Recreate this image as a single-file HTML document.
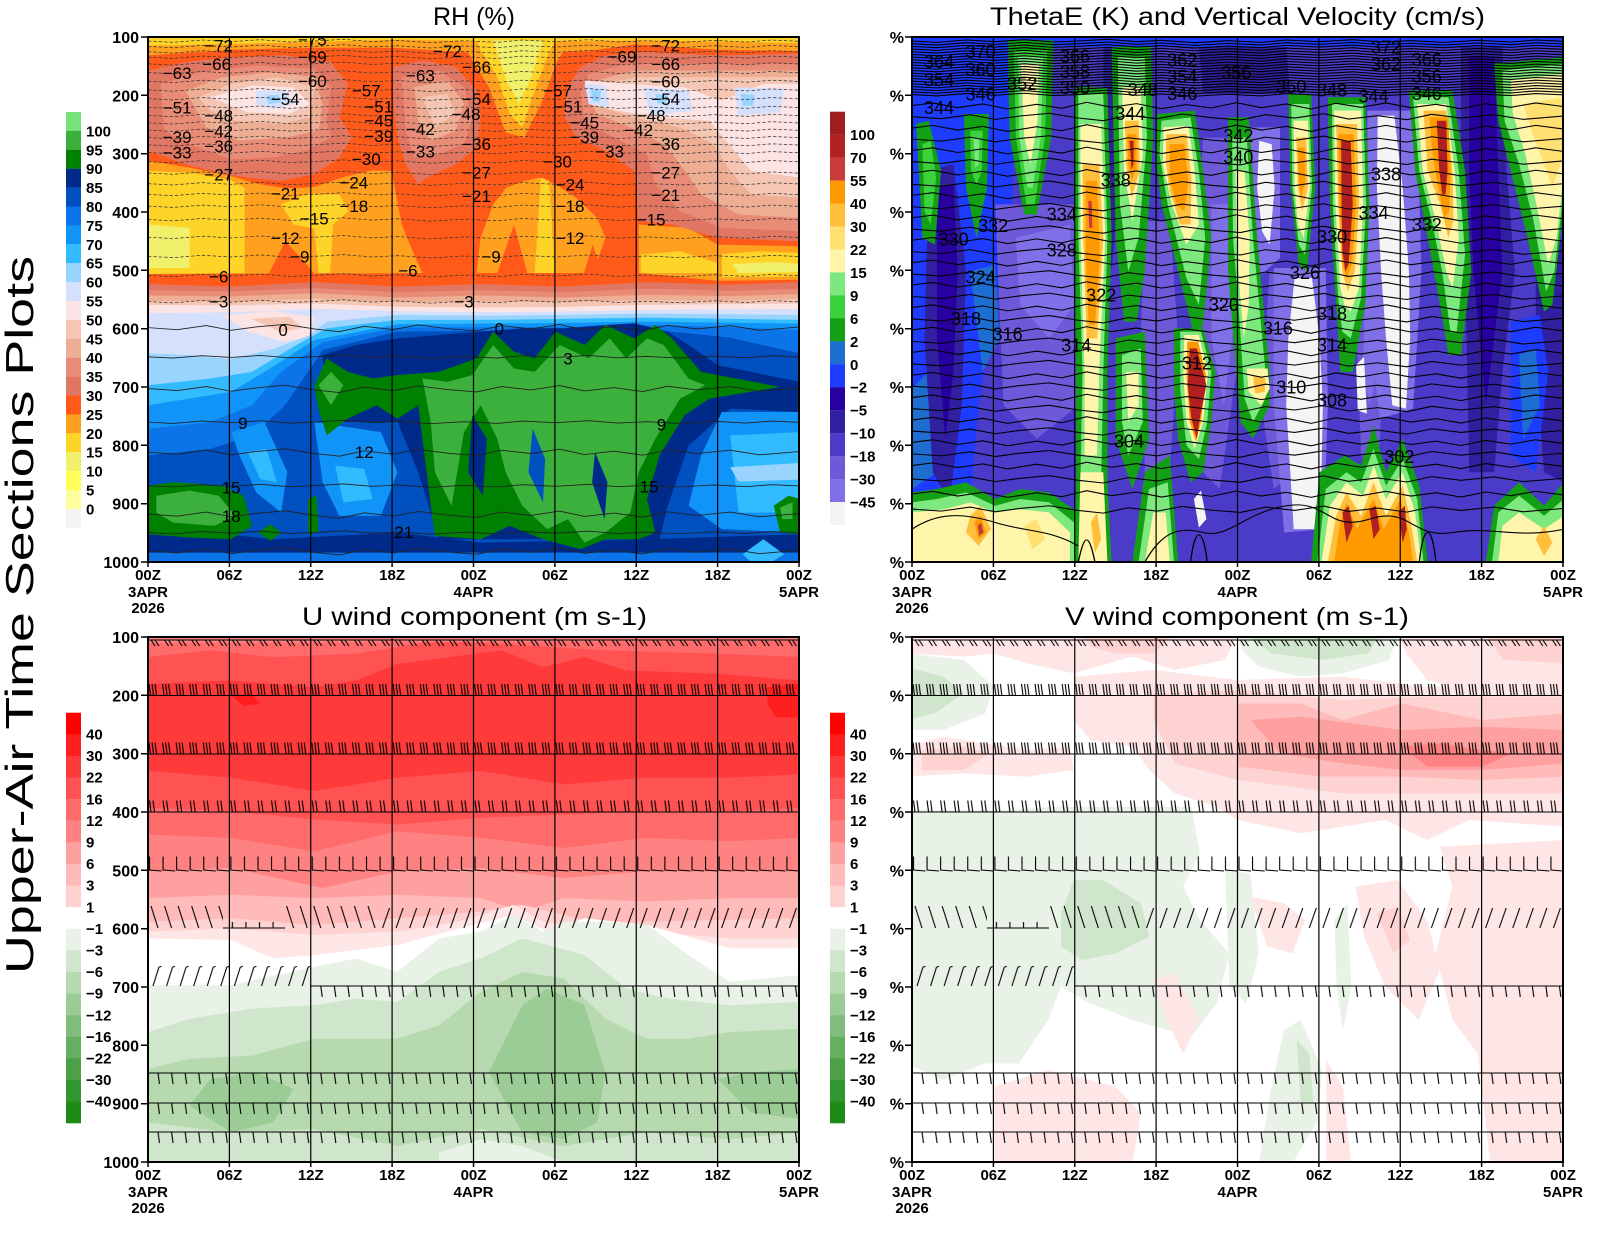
<!DOCTYPE html>
<html><head><meta charset="utf-8"><style>
html,body{margin:0;padding:0;background:#fff;}
svg{display:block;}
</style></head><body>
<svg xmlns="http://www.w3.org/2000/svg" xmlns:xlink="http://www.w3.org/1999/xlink" width="1600" height="1236" viewBox="0 0 1600 1236" font-family="'Liberation Sans', Arial, sans-serif">
<defs>
<clipPath id="cTL"><rect x="148" y="37" width="651" height="525"/></clipPath>
<clipPath id="cTR"><rect x="912" y="37" width="651" height="525"/></clipPath>
<clipPath id="cBL"><rect x="148" y="637" width="651" height="525"/></clipPath>
<clipPath id="cBR"><rect x="912" y="637" width="651" height="525"/></clipPath>
<path id="wA" d="M0 0L60 4L130 -3L200 2L270 -4L340 3L400 0L470 -5L540 2L600 -2L680 5L760 -1L840 4L900 -3L980 2L1060 -4L1130 3L1200 -1L1280 4L1360 -2L1440 3L1500 -3L1568 1"/>
<path id="wB" d="M0 0L50 -8L110 6L170 -5L230 10L300 -4L360 8L420 -10L480 5L540 -6L600 9L660 -3L720 7L780 -9L840 6L900 -5L960 10L1020 -7L1080 5L1140 -8L1200 6L1260 -4L1320 9L1380 -6L1440 5L1500 -8L1568 3"/>
<path id="wC" d="M0 0L70 6L140 -6L200 8L260 -2L330 -10L400 4L460 12L520 -4L590 6L650 -8L720 3L790 10L850 -6L920 4L990 -9L1050 7L1120 -3L1190 9L1250 -7L1320 4L1400 -6L1470 8L1568 -2"/>
<pattern id="pA" patternUnits="userSpaceOnUse" x="0" y="-25" width="13.5625" height="40"><path d="M0 25H13.6M3 25L7 31M7 25L11 31" stroke="#000" stroke-width="1.1" fill="none"/></pattern>
<pattern id="pS3" patternUnits="userSpaceOnUse" x="0" y="-25" width="13.5625" height="40"><path d="M0 25H13.6M2.5 25L1 13.5M5.5 25L4 13.5M8.5 25L7 13.5" stroke="#000" stroke-width="1.1" fill="none"/></pattern>
<pattern id="pS2" patternUnits="userSpaceOnUse" x="0" y="-25" width="13.5625" height="40"><path d="M0 25H13.6M3 25L1.5 13.5M6.5 25L5 13.5" stroke="#000" stroke-width="1.1" fill="none"/></pattern>
<pattern id="pL" patternUnits="userSpaceOnUse" x="0" y="-25" width="13.5625" height="40"><path d="M1.5 12V25.5L13.6 26.5" stroke="#000" stroke-width="1.1" fill="none"/></pattern>
<pattern id="pBk" patternUnits="userSpaceOnUse" x="0" y="-25" width="13.5625" height="40"><path d="M3 3L10 25" stroke="#000" stroke-width="1.1" fill="none"/></pattern>
<pattern id="pFl" patternUnits="userSpaceOnUse" x="0" y="-25" width="13.5625" height="40"><path d="M0 25H13.6M3 25V19" stroke="#000" stroke-width="1.1" fill="none"/></pattern>
<pattern id="pFw" patternUnits="userSpaceOnUse" x="0" y="-25" width="13.5625" height="40"><path d="M11 5L4 25" stroke="#000" stroke-width="1.1" fill="none"/></pattern>
<pattern id="pFw7" patternUnits="userSpaceOnUse" x="0" y="-25" width="13.5625" height="40"><path d="M11 6L5 25M11 6L13.5 5.5" stroke="#000" stroke-width="1.1" fill="none"/></pattern>
<pattern id="pFd" patternUnits="userSpaceOnUse" x="0" y="-25" width="13.5625" height="40"><path d="M0 25H13.6M10 25L11.5 36" stroke="#000" stroke-width="1.1" fill="none"/></pattern>
<g id="barbs">
<g transform="translate(0 640)"><rect y="-25" width="651" height="40" fill="url(#pA)"/></g>
<g transform="translate(0 695.5)"><rect y="-25" width="651" height="40" fill="url(#pS3)"/></g>
<g transform="translate(0 754)"><rect y="-25" width="651" height="40" fill="url(#pS3)"/></g>
<g transform="translate(0 812)"><rect y="-25" width="651" height="40" fill="url(#pS2)"/></g>
<g transform="translate(0 869.5)"><rect y="-25" width="651" height="40" fill="url(#pL)"/></g>
<g transform="translate(0 928)"><rect x="0" y="-25" width="75" height="40" fill="url(#pBk)"/><rect x="75" y="-25" width="62" height="40" fill="url(#pFl)"/><rect x="137" y="-25" width="96" height="40" fill="url(#pBk)"/><rect x="233" y="-25" width="418" height="40" fill="url(#pFw)"/></g>
<g transform="translate(0 986)"><rect x="0" y="-25" width="162" height="40" fill="url(#pFw7)"/><rect x="162" y="-25" width="489" height="40" fill="url(#pFd)"/></g>
<g transform="translate(0 1073)"><rect y="-25" width="651" height="40" fill="url(#pFd)"/></g>
<g transform="translate(0 1103)"><rect y="-25" width="651" height="40" fill="url(#pFd)"/></g>
<g transform="translate(0 1132)"><rect y="-25" width="651" height="40" fill="url(#pFd)"/></g>
</g>
</defs>
<rect width="1600" height="1236" fill="#fff"/>

<!-- ================= RH PANEL ================= -->
<g clip-path="url(#cTL)"><g transform="translate(148 37) scale(0.41582 0.33482)">
<rect width="1568" height="1568" fill="#ff5a1a"/>
<polygon fill="#ffa01e" points="0,0 1568,0 1568,42 1370,38 1170,22 1060,42 800,48 590,32 400,32 200,38 0,55"/>
<polygon fill="#ffd428" points="0,0 1568,0 1568,18 1200,10 900,14 600,8 300,18 0,26"/>
<polygon fill="#ffa01e" points="0,370 100,390 200,415 260,438 330,452 400,448 470,418 540,398 585,400 595,460 610,560 640,650 660,705 0,708"/>
<polygon fill="#ffd428" points="0,400 100,405 200,428 232,450 232,705 0,708"/>
<polygon fill="#ffd428" points="320,500 380,470 460,470 482,520 445,560 438,705 410,705 400,572 350,560"/>
<polygon fill="#f1f06a" points="0,560 100,570 100,690 0,690"/>
<polygon fill="#ff5a1a" points="290,708 330,610 375,670 400,708"/>
<polygon fill="#ffa01e" points="760,20 1010,20 985,70 945,200 905,300 860,285 820,150 780,70"/>
<polygon fill="#ffd428" points="790,10 980,10 960,60 930,160 900,270 870,230 840,120 800,40"/>
<polygon fill="#f1f06a" points="830,10 950,10 922,120 892,200 862,130"/>
<polygon fill="#ffa01e" points="790,705 800,600 830,500 862,450 900,432 940,420 980,440 1030,480 1080,540 1100,600 1070,705"/>
<polygon fill="#ff5a1a" points="840,705 880,560 912,705"/>
<polygon fill="#ff5a1a" points="1048,705 1070,620 1092,705"/>
<polygon fill="#ffd428" points="930,705 945,420 965,430 978,705"/>
<polygon fill="#ffa01e" points="1180,560 1300,570 1370,620 1568,625 1568,725 1370,728 1180,705"/>
<polygon fill="#ffd428" points="1185,650 1280,640 1370,675 1370,705 1185,705"/>
<polygon fill="#ffd428" points="1380,648 1470,640 1568,645 1568,715 1380,718"/>
<polygon fill="#f1f06a" points="1405,678 1500,672 1568,678 1568,702 1420,705"/>
<polygon fill="#e17662" points="0,100 90,75 200,60 330,55 440,75 480,140 460,240 490,300 460,360 400,410 320,430 240,420 170,405 90,380 0,340"/>
<polygon fill="#e88c78" points="30,140 130,105 260,85 400,95 440,150 430,250 440,300 380,340 300,360 200,365 120,330 40,280"/>
<polygon fill="#edae94" points="90,160 180,120 300,105 400,120 420,200 410,280 330,300 220,310 140,270"/>
<polygon fill="#f5c6b4" points="120,180 200,140 310,120 400,150 390,240 320,260 210,250 150,220"/>
<polygon fill="#fde4e4" points="150,180 250,145 350,150 390,200 340,230 240,225"/>
<polygon fill="#d5e0fc" points="260,160 330,160 350,200 300,215 260,200"/>
<polygon fill="#99d4ff" points="285,175 315,172 320,195 290,200"/>
<polygon fill="#e17662" points="590,90 660,70 740,90 790,160 800,240 790,330 740,380 670,420 650,440 620,380 600,300 590,200"/>
<polygon fill="#e88c78" points="610,120 700,100 760,150 780,240 760,320 700,350 640,360 620,280"/>
<polygon fill="#edae94" points="640,150 720,130 760,200 740,280 680,310 650,250"/>
<polygon fill="#f5c6b4" points="660,180 720,170 740,230 690,270"/>
<polygon fill="#e17662" points="1040,90 1100,55 1200,45 1370,55 1568,50 1568,610 1370,600 1260,560 1180,550 1170,400 1100,340 1030,300 1000,230 1010,150"/>
<polygon fill="#e88c78" points="1060,110 1150,80 1370,80 1568,80 1568,580 1380,570 1280,520 1220,440 1200,350 1120,300 1050,250 1040,170"/>
<polygon fill="#edae94" points="1080,130 1170,100 1370,100 1568,100 1568,540 1420,530 1330,470 1280,380 1240,320 1160,270 1080,230 1060,180"/>
<polygon fill="#f5c6b4" points="1090,140 1180,120 1370,120 1568,120 1568,480 1450,470 1400,400 1360,320 1280,270 1170,240 1090,210"/>
<polygon fill="#fde4e4" points="1050,130 1150,140 1290,150 1380,190 1480,140 1568,140 1568,420 1450,400 1390,310 1350,250 1230,240 1130,220 1060,200"/>
<polygon fill="#d5e0fc" points="1050,140 1100,145 1110,210 1060,200"/>
<polygon fill="#d5e0fc" points="1190,150 1300,160 1310,220 1210,235"/>
<polygon fill="#d5e0fc" points="1410,150 1530,155 1520,225 1420,235"/>
<polygon fill="#99d4ff" points="1065,155 1090,160 1085,195 1068,190"/>
<polygon fill="#99d4ff" points="1220,170 1250,175 1245,200 1225,198"/>
<polygon fill="#99d4ff" points="1425,170 1460,172 1455,205 1430,205"/>
<polygon fill="#e17662" points="0,738 200,745 400,732 600,745 800,738 1000,745 1200,732 1400,740 1568,732 1568,1568 0,1568"/>
<polygon fill="#e88c78" points="0,756 200,760 400,750 600,762 800,756 1000,762 1200,752 1400,758 1568,752 1568,1568 0,1568"/>
<polygon fill="#edae94" points="0,772 200,775 400,765 600,778 800,772 1000,778 1200,770 1400,774 1568,768 1568,1568 0,1568"/>
<polygon fill="#f5c6b4" points="0,788 200,790 400,782 600,792 800,790 1000,792 1200,786 1400,788 1568,782 1568,1568 0,1568"/>
<polygon fill="#fde4e4" points="0,800 200,802 400,796 600,806 800,808 1000,806 1200,800 1568,796 1568,1568 0,1568"/>
<polygon fill="#d5e0fc" points="0,825 200,822 420,812 600,818 800,822 1000,820 1200,815 1568,812 1568,1568 0,1568"/>
<polygon fill="#fde4e4" points="180,832 300,818 400,838 385,900 320,908 240,880"/>
<polygon fill="#f5c6b4" points="250,842 340,835 372,868 320,882"/>
<polygon fill="#99d4ff" points="0,945 100,950 200,962 300,932 390,890 430,850 600,830 800,832 1000,830 1200,826 1568,830 1568,1568 0,1568"/>
<polygon fill="#33bbff" points="0,1040 150,1020 250,1000 350,925 430,870 600,845 800,845 1000,842 1200,838 1400,842 1568,845 1568,1568 0,1568"/>
<polygon fill="#1194f8" points="0,1100 200,1060 300,985 400,905 600,858 800,856 1000,854 1200,850 1568,856 1568,1568 0,1568"/>
<polygon fill="#0a74e8" points="0,1170 150,1150 250,1100 320,1000 420,912 600,868 1000,866 1200,860 1400,866 1568,876 1568,1568 0,1568"/>
<polygon fill="#0050c0" points="0,1250 150,1230 250,1190 330,1100 420,935 600,880 1000,876 1200,872 1400,898 1568,945 1568,1568 0,1568"/>
<polygon fill="#1194f8" points="200,1180 280,1150 335,1300 320,1420 260,1360 220,1250"/>
<polygon fill="#33bbff" points="240,1240 285,1230 310,1330 270,1320"/>
<polygon fill="#1194f8" points="400,1150 560,1180 600,1300 560,1430 460,1430 420,1330"/>
<polygon fill="#33bbff" points="450,1280 520,1290 540,1380 470,1390"/>
<polygon fill="#002a8a" points="420,950 500,920 600,900 700,890 800,880 900,870 1000,870 1100,860 1170,855 1250,880 1300,920 1370,980 1568,1030 1568,1120 1400,1110 1300,1220 1250,1400 1230,1500 700,1500 650,1300 600,1150 500,1150 430,1150"/>
<polygon fill="#002a8a" points="0,1460 300,1500 600,1480 800,1510 1200,1500 1568,1485 1568,1545 0,1545"/>
<polygon fill="#0a74e8" points="0,1540 1568,1540 1568,1568 0,1568"/>
<polygon fill="#33bbff" points="1430,1545 1480,1500 1530,1545 1500,1568 1450,1568"/>
<polygon fill="#1194f8" points="1380,1120 1568,1120 1568,1480 1380,1470 1300,1400 1330,1250"/>
<polygon fill="#33bbff" points="1400,1190 1568,1180 1568,1420 1420,1420"/>
<polygon fill="#99d4ff" points="1400,1285 1568,1272 1568,1322 1420,1328"/>
<polygon fill="#008000" points="400,1040 430,960 480,1000 540,1020 600,1010 700,1000 790,960 830,880 880,940 930,960 980,880 1050,920 1100,860 1170,900 1220,860 1260,900 1330,1000 1520,1045 1350,1080 1290,1130 1230,1250 1200,1380 1220,1480 1180,1500 1100,1500 1040,1530 950,1500 870,1460 800,1500 690,1490 680,1400 660,1200 650,1100 600,1140 550,1100 480,1140 430,1190 410,1110"/>
<polygon fill="#3cb03c" points="410,1040 440,1000 470,1040 440,1100"/>
<polygon fill="#3cb03c" points="660,1020 720,1030 780,1010 830,920 880,990 930,1000 990,920 1060,960 1110,900 1150,960 1200,900 1240,920 1300,1020 1340,1040 1280,1080 1220,1200 1180,1300 1160,1420 1100,1480 1050,1510 1010,1440 960,1470 900,1400 860,1300 840,1200 800,1100 760,1180 730,1400 690,1300 680,1150"/>
<polygon fill="#002a8a" points="780,1130 815,1200 805,1370 770,1300"/>
<polygon fill="#0050c0" points="925,1170 955,1260 950,1390 915,1300"/>
<polygon fill="#002a8a" points="1075,1240 1105,1330 1098,1440 1068,1330"/>
<polygon fill="#008000" points="0,1340 60,1330 180,1340 230,1370 250,1460 200,1500 100,1495 0,1485"/>
<polygon fill="#3cb03c" points="20,1370 100,1355 170,1370 210,1430 160,1460 60,1450 20,1420"/>
<polygon fill="#008000" points="265,1480 295,1455 320,1480 295,1505"/>
<polygon fill="#008000" points="385,1380 405,1370 410,1480 385,1485"/>
<polygon fill="#008000" points="1505,1400 1540,1370 1568,1380 1568,1485 1520,1480"/>
<polygon fill="#3cb03c" points="1520,1405 1550,1390 1550,1440 1525,1440"/>
<g fill="none" stroke="#333" stroke-width="2.2" stroke-dasharray="8 5">
<use xlink:href="#wA" y="12"/><use xlink:href="#wA" y="28"/><use xlink:href="#wA" y="44"/><use xlink:href="#wA" y="60"/><use xlink:href="#wA" y="80"/><use xlink:href="#wA" y="106"/><use xlink:href="#wA" y="132"/><use xlink:href="#wA" y="158"/><use xlink:href="#wA" y="184"/><use xlink:href="#wA" y="210"/><use xlink:href="#wA" y="234"/><use xlink:href="#wA" y="256"/><use xlink:href="#wA" y="278"/><use xlink:href="#wA" y="300"/><use xlink:href="#wA" y="322"/><use xlink:href="#wA" y="345"/><use xlink:href="#wA" y="372"/><use xlink:href="#wA" y="406"/><use xlink:href="#wA" y="438"/><use xlink:href="#wA" y="470"/><use xlink:href="#wA" y="505"/><use xlink:href="#wA" y="545"/><use xlink:href="#wA" y="598"/><use xlink:href="#wA" y="655"/><use xlink:href="#wA" y="712"/><use xlink:href="#wA" y="790"/>
</g>
<g fill="none" stroke="#222" stroke-width="2.6">
<use xlink:href="#wC" y="868"/><use xlink:href="#wA" y="955"/><use xlink:href="#wC" y="1050"/><use xlink:href="#wA" y="1150"/><use xlink:href="#wC" y="1240"/><use xlink:href="#wA" y="1340"/><use xlink:href="#wC" y="1425"/><use xlink:href="#wA" y="1480"/><use xlink:href="#wC" y="1535"/>
</g>
<g font-size="17" text-anchor="middle" fill="#000">
<text transform="translate(170 25) scale(2.405 2.987)" y="6">−72</text>
<text transform="translate(395 8) scale(2.405 2.987)" y="6">−75</text>
<text transform="translate(395 60) scale(2.405 2.987)" y="6">−69</text>
<text transform="translate(165 80) scale(2.405 2.987)" y="6">−66</text>
<text transform="translate(70 108) scale(2.405 2.987)" y="6">−63</text>
<text transform="translate(395 132) scale(2.405 2.987)" y="6">−60</text>
<text transform="translate(330 185) scale(2.405 2.987)" y="6">−54</text>
<text transform="translate(525 160) scale(2.405 2.987)" y="6">−57</text>
<text transform="translate(70 210) scale(2.405 2.987)" y="6">−51</text>
<text transform="translate(170 235) scale(2.405 2.987)" y="6">−48</text>
<text transform="translate(555 207) scale(2.405 2.987)" y="6">−51</text>
<text transform="translate(555 250) scale(2.405 2.987)" y="6">−45</text>
<text transform="translate(170 280) scale(2.405 2.987)" y="6">−42</text>
<text transform="translate(555 295) scale(2.405 2.987)" y="6">−39</text>
<text transform="translate(70 298) scale(2.405 2.987)" y="6">−39</text>
<text transform="translate(170 325) scale(2.405 2.987)" y="6">−36</text>
<text transform="translate(70 345) scale(2.405 2.987)" y="6">−33</text>
<text transform="translate(525 365) scale(2.405 2.987)" y="6">−30</text>
<text transform="translate(170 410) scale(2.405 2.987)" y="6">−27</text>
<text transform="translate(495 435) scale(2.405 2.987)" y="6">−24</text>
<text transform="translate(330 468) scale(2.405 2.987)" y="6">−21</text>
<text transform="translate(495 505) scale(2.405 2.987)" y="6">−18</text>
<text transform="translate(400 542) scale(2.405 2.987)" y="6">−15</text>
<text transform="translate(330 600) scale(2.405 2.987)" y="6">−12</text>
<text transform="translate(365 655) scale(2.405 2.987)" y="6">−9</text>
<text transform="translate(170 715) scale(2.405 2.987)" y="6">−6</text>
<text transform="translate(625 698) scale(2.405 2.987)" y="6">−6</text>
<text transform="translate(170 790) scale(2.405 2.987)" y="6">−3</text>
<text transform="translate(325 875) scale(2.405 2.987)" y="6">0</text>
<text transform="translate(720 42) scale(2.405 2.987)" y="6">−72</text>
<text transform="translate(790 90) scale(2.405 2.987)" y="6">−66</text>
<text transform="translate(655 115) scale(2.405 2.987)" y="6">−63</text>
<text transform="translate(790 185) scale(2.405 2.987)" y="6">−54</text>
<text transform="translate(765 230) scale(2.405 2.987)" y="6">−48</text>
<text transform="translate(655 275) scale(2.405 2.987)" y="6">−42</text>
<text transform="translate(790 320) scale(2.405 2.987)" y="6">−36</text>
<text transform="translate(655 342) scale(2.405 2.987)" y="6">−33</text>
<text transform="translate(790 405) scale(2.405 2.987)" y="6">−27</text>
<text transform="translate(790 475) scale(2.405 2.987)" y="6">−21</text>
<text transform="translate(825 655) scale(2.405 2.987)" y="6">−9</text>
<text transform="translate(760 790) scale(2.405 2.987)" y="6">−3</text>
<text transform="translate(845 870) scale(2.405 2.987)" y="6">0</text>
<text transform="translate(1140 58) scale(2.405 2.987)" y="6">−69</text>
<text transform="translate(1245 25) scale(2.405 2.987)" y="6">−72</text>
<text transform="translate(1245 80) scale(2.405 2.987)" y="6">−66</text>
<text transform="translate(1245 133) scale(2.405 2.987)" y="6">−60</text>
<text transform="translate(985 160) scale(2.405 2.987)" y="6">−57</text>
<text transform="translate(1245 185) scale(2.405 2.987)" y="6">−54</text>
<text transform="translate(1010 208) scale(2.405 2.987)" y="6">−51</text>
<text transform="translate(1210 235) scale(2.405 2.987)" y="6">−48</text>
<text transform="translate(1050 255) scale(2.405 2.987)" y="6">−45</text>
<text transform="translate(1180 278) scale(2.405 2.987)" y="6">−42</text>
<text transform="translate(1050 298) scale(2.405 2.987)" y="6">−39</text>
<text transform="translate(1245 320) scale(2.405 2.987)" y="6">−36</text>
<text transform="translate(1110 342) scale(2.405 2.987)" y="6">−33</text>
<text transform="translate(985 372) scale(2.405 2.987)" y="6">−30</text>
<text transform="translate(1245 405) scale(2.405 2.987)" y="6">−27</text>
<text transform="translate(1015 440) scale(2.405 2.987)" y="6">−24</text>
<text transform="translate(1245 472) scale(2.405 2.987)" y="6">−21</text>
<text transform="translate(1015 505) scale(2.405 2.987)" y="6">−18</text>
<text transform="translate(1210 545) scale(2.405 2.987)" y="6">−15</text>
<text transform="translate(1015 600) scale(2.405 2.987)" y="6">−12</text>
<text transform="translate(1010 960) scale(2.405 2.987)" y="6">3</text>
<text transform="translate(1235 1158) scale(2.405 2.987)" y="6">9</text>
<text transform="translate(1205 1342) scale(2.405 2.987)" y="6">15</text>
<text transform="translate(228 1153) scale(2.405 2.987)" y="6">9</text>
<text transform="translate(520 1240) scale(2.405 2.987)" y="6">12</text>
<text transform="translate(200 1345) scale(2.405 2.987)" y="6">15</text>
<text transform="translate(200 1430) scale(2.405 2.987)" y="6">18</text>
<text transform="translate(615 1478) scale(2.405 2.987)" y="6">21</text>
</g>
</g></g>

<!-- ================= THETAE PANEL ================= -->
<g clip-path="url(#cTR)"><g transform="translate(912 37) scale(0.41582 0.33482)">
<rect width="1568" height="1568" fill="#4a3cc8"/>
<polygon fill="#1e3cff" points="0,0 250,0 250,170 240,500 200,800 160,1100 140,1400 0,1400"/>
<polygon fill="#1e3cff" points="250,0 1568,0 1568,30 250,30"/>
<polygon fill="#1e6ed2" points="140,700 200,680 210,900 170,1000"/>
<polygon fill="#1e6ed2" points="0,1050 40,1000 60,1300 0,1350"/>
<polygon fill="#3020a0" points="40,400 100,380 130,700 120,1100 90,1390 50,1300 30,900"/>
<polygon fill="#2800a0" points="60,450 100,440 110,700 100,1000 80,1200 60,900"/>
<polygon fill="#3020a0" points="1320,30 1420,30 1430,400 1450,700 1420,1000 1400,1300 1340,1300 1330,700 1320,400"/>
<polygon fill="#2800a0" points="1340,60 1400,60 1410,400 1420,700 1380,1100 1350,700 1340,400"/>
<polygon fill="#3020a0" points="1500,650 1568,600 1568,1330 1520,1300 1500,1000"/>
<polygon fill="#1e3cff" points="1440,850 1510,830 1530,1000 1500,1300 1440,1250"/>
<polygon fill="#1e6ed2" points="1460,950 1500,930 1510,1100 1470,1200"/>
<polygon fill="#3020a0" points="690,30 900,30 910,170 700,170"/>
<polygon fill="#3020a0" points="460,30 500,30 500,400 480,700 460,500"/>
<polygon fill="#6e5ad8" points="200,500 400,500 400,1100 300,1200 220,1100"/>
<polygon fill="#6e5ad8" points="560,550 620,550 640,900 620,1300 560,1300 550,900"/>
<polygon fill="#6e5ad8" points="700,300 780,300 800,700 780,1000 740,1350 700,1300 680,700"/>
<polygon fill="#6e5ad8" points="1080,600 1120,600 1140,900 1120,1300 1080,1250 1070,900"/>
<polygon fill="#6e5ad8" points="860,700 910,700 920,1300 870,1350 840,1100"/>
<polygon fill="#8070e8" points="250,600 380,560 390,800 330,900 260,800"/>
<polygon fill="#8070e8" points="720,500 770,500 780,800 750,1100 720,900"/>
<polygon fill="#8070e8" points="1090,700 1110,700 1120,1000 1100,1100 1085,1000"/>
<polygon fill="#8070e8" points="805,270 885,270 885,660 840,710 805,610"/>
<polygon fill="#f4f4f4" points="835,310 865,320 872,450 860,620 842,580 830,450"/>
<polygon fill="#8070e8" points="870,690 995,690 1000,1100 990,1470 895,1480 870,1100"/>
<polygon fill="#f4f4f4" points="920,720 962,720 980,900 988,1100 982,1470 918,1470 900,1100 905,900"/>
<polygon fill="#8070e8" points="1095,220 1215,220 1225,700 1205,1110 1125,1140 1095,800"/>
<polygon fill="#f4f4f4" points="1120,235 1160,235 1180,450 1195,700 1198,900 1188,1110 1155,1100 1140,900 1128,700 1118,450"/>
<polygon fill="#f4f4f4" points="1068,980 1087,955 1094,1125 1072,1115"/>
<polygon fill="#f4f4f4" points="678,1380 695,1355 708,1440 690,1465"/>
<polygon fill="#14a014" points="230,10 340,10 335,300 300,530 270,530 235,300"/>
<polygon fill="#3cd23c" points="245,40 325,40 320,300 295,500 275,500 250,300"/>
<polygon fill="#7de87d" points="255,60 315,60 310,300 290,450 278,450 258,300"/>
<polygon fill="#fff5aa" points="262,80 305,80 302,250 285,380 270,300"/>
<polygon fill="#14a014" points="10,260 40,250 70,400 55,620 25,600"/>
<polygon fill="#3cd23c" points="25,320 45,310 58,420 45,560 30,520"/>
<polygon fill="#14a014" points="125,230 185,230 180,450 155,600 130,450"/>
<polygon fill="#3cd23c" points="140,280 170,280 168,400 155,440 142,400"/>
<polygon fill="#7de87d" points="148,300 162,300 160,380 152,390"/>
<polygon fill="#14a014" points="390,150 470,150 480,600 470,1000 470,1330 480,1568 390,1568 395,1330 395,1000 390,600"/>
<polygon fill="#7de87d" points="400,170 460,170 470,600 460,1000 455,1330 465,1568 405,1568 405,1330 410,1000 400,600"/>
<polygon fill="#fff5aa" points="405,260 455,260 465,600 450,1000 445,1250 415,1250 415,1000 405,600"/>
<polygon fill="#ffbe3c" points="410,380 450,380 460,600 445,900 420,900 412,600"/>
<polygon fill="#ff9900" points="418,430 445,430 452,650 440,860 425,860 418,650"/>
<polygon fill="#c83c3c" points="424,490 432,490 434,570 426,570"/>
<polygon fill="#fff5aa" points="405,1300 460,1300 470,1568 400,1568"/>
<polygon fill="#ffbe3c" points="430,1450 445,1420 455,1500 440,1540"/>
<polygon fill="#14a014" points="480,30 575,30 580,300 560,700 540,850 510,850 490,600"/>
<polygon fill="#7de87d" points="495,60 560,60 565,300 545,600 520,700 500,500"/>
<polygon fill="#fff5aa" points="505,150 550,150 555,350 530,550 510,400"/>
<polygon fill="#ffbe3c" points="512,250 545,250 548,400 528,480 515,380"/>
<polygon fill="#ff9900" points="518,290 540,290 540,390 528,430 520,380"/>
<polygon fill="#b22222" points="523,310 533,310 533,380 528,395"/>
<polygon fill="#14a014" points="490,900 560,880 570,1200 530,1350 490,1200"/>
<polygon fill="#7de87d" points="505,950 550,930 555,1150 520,1250 505,1150"/>
<polygon fill="#fff5aa" points="515,1000 545,1000 545,1100 520,1150"/>
<polygon fill="#14a014" points="590,230 680,220 700,400 720,600 700,860 680,900 640,700 600,500 585,350"/>
<polygon fill="#7de87d" points="600,250 670,240 690,400 705,600 690,800 660,720 615,500 595,350"/>
<polygon fill="#fff5aa" points="605,270 665,265 680,400 690,560 660,620 625,500 603,380"/>
<polygon fill="#ffbe3c" points="612,290 660,290 672,420 670,560 645,560 620,460 610,370"/>
<polygon fill="#ff9900" points="620,320 655,320 665,430 655,520 635,500 620,420"/>
<polygon fill="#14a014" points="630,870 700,870 730,1000 720,1150 700,1300 670,1330 640,1200 630,1050"/>
<polygon fill="#7de87d" points="645,880 695,880 720,1000 710,1150 690,1260 660,1220 645,1050"/>
<polygon fill="#fff5aa" points="655,890 690,890 712,1000 700,1150 680,1230 660,1150 652,1000"/>
<polygon fill="#ff9900" points="662,910 688,910 707,1010 695,1150 683,1210 668,1150 660,1010"/>
<polygon fill="#b02020" points="668,930 685,930 708,1040 692,1140 685,1200 672,1140 663,1040"/>
<polygon fill="#14a014" points="760,240 810,240 830,600 860,1000 860,1100 820,1200 790,1150 780,1000 760,700"/>
<polygon fill="#7de87d" points="770,300 805,300 820,600 850,1000 850,1080 820,1150 800,1080 785,800 772,600"/>
<polygon fill="#fff5aa" points="778,400 800,400 812,600 810,800 798,900 788,750 780,600"/>
<polygon fill="#fff5aa" points="805,990 855,990 860,1050 840,1100 810,1060"/>
<polygon fill="#ffbe3c" points="820,1010 850,1020 848,1060 825,1065"/>
<polygon fill="#14a014" points="905,170 960,170 970,450 950,700 930,680 910,450"/>
<polygon fill="#7de87d" points="912,200 955,200 962,450 945,650 930,620 915,450"/>
<polygon fill="#fff5aa" points="918,250 952,250 957,450 942,600 928,560 920,450"/>
<polygon fill="#ffbe3c" points="924,300 948,300 952,450 938,520 928,450"/>
<polygon fill="#ff9900" points="928,330 945,330 946,430 936,480 930,430"/>
<polygon fill="#14a014" points="1000,180 1090,180 1100,500 1090,800 1060,1000 1030,1000 1020,800 1005,500"/>
<polygon fill="#7de87d" points="1010,200 1085,200 1092,500 1080,780 1055,900 1035,880 1025,780 1012,500"/>
<polygon fill="#fff5aa" points="1015,220 1080,220 1085,500 1075,750 1055,820 1040,800 1030,750 1018,500"/>
<polygon fill="#ffbe3c" points="1020,260 1070,260 1075,500 1065,700 1048,760 1035,700 1025,500"/>
<polygon fill="#ff9900" points="1025,290 1062,290 1068,500 1058,680 1045,720 1035,680 1028,500"/>
<polygon fill="#b02020" points="1032,310 1055,310 1060,500 1050,680 1042,700 1035,640 1033,500"/>
<polygon fill="#14a014" points="1195,160 1300,160 1330,400 1345,700 1320,950 1290,950 1270,800 1240,600 1210,400"/>
<polygon fill="#7de87d" points="1205,180 1290,180 1315,400 1330,650 1310,880 1295,880 1275,700 1250,550 1220,400"/>
<polygon fill="#fff5aa" points="1215,200 1285,200 1305,400 1315,600 1300,750 1285,700 1260,550 1228,400"/>
<polygon fill="#ffbe3c" points="1230,220 1285,220 1300,400 1302,550 1290,600 1270,500 1240,400"/>
<polygon fill="#ff9900" points="1245,240 1290,240 1295,400 1292,520 1280,540 1265,450 1250,330"/>
<polygon fill="#b02020" points="1262,250 1285,250 1288,400 1283,470 1275,470 1268,400"/>
<polygon fill="#14a014" points="1400,80 1568,60 1568,500 1540,800 1520,820 1480,600 1440,400 1410,250"/>
<polygon fill="#7de87d" points="1420,100 1568,80 1568,450 1545,700 1525,760 1495,550 1460,380 1425,250"/>
<polygon fill="#fff5aa" points="1440,130 1568,110 1568,400 1550,600 1530,680 1505,520 1475,350 1445,230"/>
<polygon fill="#ffe070" points="1470,200 1568,180 1568,350 1540,450 1520,380 1490,280"/>
<polygon fill="#14a014" points="960,1568 980,1300 1040,1250 1080,1280 1110,1160 1140,1300 1180,1200 1220,1340 1240,1568"/>
<polygon fill="#7de87d" points="975,1568 995,1350 1045,1300 1080,1330 1110,1230 1140,1340 1180,1260 1215,1380 1230,1568"/>
<polygon fill="#fff5aa" points="985,1568 1005,1400 1045,1330 1085,1370 1110,1280 1140,1380 1180,1300 1210,1420 1225,1568"/>
<polygon fill="#ffbe3c" points="1000,1568 1020,1430 1045,1360 1080,1430 1110,1330 1140,1430 1180,1340 1200,1450 1215,1568"/>
<polygon fill="#ff9900" points="1015,1568 1030,1450 1045,1390 1070,1470 1110,1380 1135,1470 1175,1380 1195,1480 1205,1568"/>
<polygon fill="#b02020" points="1035,1420 1050,1400 1060,1460 1045,1510"/>
<polygon fill="#b02020" points="1100,1410 1115,1400 1125,1470 1110,1500"/>
<polygon fill="#b02020" points="1170,1420 1185,1400 1190,1470 1180,1510"/>
<polygon fill="#14a014" points="0,1568 0,1360 60,1350 130,1330 200,1380 260,1350 330,1360 400,1420 400,1568"/>
<polygon fill="#7de87d" points="0,1568 0,1390 60,1380 130,1360 200,1400 260,1380 330,1390 390,1450 390,1568"/>
<polygon fill="#fff5aa" points="0,1568 0,1420 80,1410 140,1390 200,1420 260,1410 330,1420 380,1480 380,1568"/>
<polygon fill="#ffbe3c" points="140,1430 165,1400 190,1470 160,1520 130,1480"/>
<polygon fill="#ff9900" points="150,1450 165,1430 178,1480 160,1500"/>
<polygon fill="#c83c3c" points="158,1460 166,1450 172,1480 162,1490"/>
<polygon fill="#ffe070" points="270,1460 300,1440 320,1500 290,1530"/>
<polygon fill="#14a014" points="530,1568 560,1300 620,1250 640,1568"/>
<polygon fill="#7de87d" points="545,1568 570,1350 615,1330 630,1568"/>
<polygon fill="#fff5aa" points="560,1568 580,1420 610,1420 620,1568"/>
<polygon fill="#14a014" points="1380,1568 1400,1400 1460,1330 1520,1400 1568,1330 1568,1568"/>
<polygon fill="#7de87d" points="1395,1568 1410,1420 1460,1370 1520,1430 1568,1380 1568,1568"/>
<polygon fill="#fff5aa" points="1410,1568 1420,1460 1460,1420 1520,1470 1568,1430 1568,1568"/>
<polygon fill="#ffbe3c" points="1500,1500 1520,1460 1540,1510 1520,1550"/>
<g fill="none" stroke="#000" stroke-width="3.2">
<use xlink:href="#wA" y="12"/><use xlink:href="#wA" y="20"/><use xlink:href="#wA" y="28"/><use xlink:href="#wA" y="36"/><use xlink:href="#wA" y="44"/><use xlink:href="#wA" y="52"/><use xlink:href="#wA" y="60"/><use xlink:href="#wA" y="68"/><use xlink:href="#wA" y="76"/><use xlink:href="#wA" y="84"/><use xlink:href="#wA" y="92"/><use xlink:href="#wA" y="100"/><use xlink:href="#wA" y="108"/><use xlink:href="#wA" y="116"/><use xlink:href="#wA" y="124"/><use xlink:href="#wA" y="132"/><use xlink:href="#wA" y="140"/><use xlink:href="#wA" y="148"/><use xlink:href="#wA" y="156"/><use xlink:href="#wA" y="164"/><use xlink:href="#wA" y="172"/>
<use xlink:href="#wB" y="205"/><use xlink:href="#wC" y="238"/><use xlink:href="#wB" y="272"/><use xlink:href="#wC" y="305"/><use xlink:href="#wB" y="339"/><use xlink:href="#wC" y="372"/><use xlink:href="#wB" y="406"/><use xlink:href="#wC" y="440"/><use xlink:href="#wB" y="473"/><use xlink:href="#wC" y="507"/><use xlink:href="#wB" y="540"/><use xlink:href="#wC" y="574"/><use xlink:href="#wB" y="607"/><use xlink:href="#wC" y="641"/><use xlink:href="#wB" y="674"/><use xlink:href="#wC" y="708"/><use xlink:href="#wB" y="741"/><use xlink:href="#wC" y="775"/><use xlink:href="#wB" y="808"/><use xlink:href="#wC" y="842"/><use xlink:href="#wB" y="875"/><use xlink:href="#wC" y="909"/><use xlink:href="#wB" y="942"/><use xlink:href="#wC" y="976"/><use xlink:href="#wB" y="1010"/><use xlink:href="#wC" y="1043"/><use xlink:href="#wB" y="1077"/><use xlink:href="#wC" y="1110"/><use xlink:href="#wB" y="1144"/><use xlink:href="#wC" y="1177"/><use xlink:href="#wB" y="1211"/><use xlink:href="#wC" y="1245"/><use xlink:href="#wB" y="1280"/><use xlink:href="#wC" y="1320"/><use xlink:href="#wB" y="1365"/><use xlink:href="#wC" y="1410"/>
<path d="M0 1470C60 1420 120 1420 200 1450S330 1470 400 1520M560 1568C600 1480 640 1460 700 1480S800 1420 900 1400S1000 1480 1100 1440S1200 1500 1300 1480S1450 1500 1568 1470M400 1568C415 1480 425 1480 440 1568M670 1568C680 1460 700 1460 710 1568M1220 1568C1230 1450 1250 1450 1260 1568"/>
</g>
<g font-size="18" text-anchor="middle" fill="#000">
<text transform="translate(65 75) scale(2.405 2.987)" y="6">364</text>
<text transform="translate(165 45) scale(2.405 2.987)" y="6">370</text>
<text transform="translate(165 98) scale(2.405 2.987)" y="6">360</text>
<text transform="translate(65 128) scale(2.405 2.987)" y="6">354</text>
<text transform="translate(165 172) scale(2.405 2.987)" y="6">346</text>
<text transform="translate(265 140) scale(2.405 2.987)" y="6">352</text>
<text transform="translate(392 58) scale(2.405 2.987)" y="6">366</text>
<text transform="translate(392 104) scale(2.405 2.987)" y="6">358</text>
<text transform="translate(392 152) scale(2.405 2.987)" y="6">350</text>
<text transform="translate(65 212) scale(2.405 2.987)" y="6">344</text>
<text transform="translate(650 70) scale(2.405 2.987)" y="6">362</text>
<text transform="translate(650 120) scale(2.405 2.987)" y="6">354</text>
<text transform="translate(650 170) scale(2.405 2.987)" y="6">346</text>
<text transform="translate(780 108) scale(2.405 2.987)" y="6">356</text>
<text transform="translate(555 158) scale(2.405 2.987)" y="6">348</text>
<text transform="translate(525 230) scale(2.405 2.987)" y="6">344</text>
<text transform="translate(912 150) scale(2.405 2.987)" y="6">350</text>
<text transform="translate(1010 160) scale(2.405 2.987)" y="6">348</text>
<text transform="translate(1110 178) scale(2.405 2.987)" y="6">344</text>
<text transform="translate(1140 32) scale(2.405 2.987)" y="6">372</text>
<text transform="translate(1140 82) scale(2.405 2.987)" y="6">362</text>
<text transform="translate(1238 68) scale(2.405 2.987)" y="6">366</text>
<text transform="translate(1238 118) scale(2.405 2.987)" y="6">356</text>
<text transform="translate(1238 170) scale(2.405 2.987)" y="6">346</text>
<text transform="translate(785 295) scale(2.405 2.987)" y="6">342</text>
<text transform="translate(785 360) scale(2.405 2.987)" y="6">340</text>
<text transform="translate(490 428) scale(2.405 2.987)" y="6">338</text>
<text transform="translate(1140 410) scale(2.405 2.987)" y="6">338</text>
<text transform="translate(360 530) scale(2.405 2.987)" y="6">334</text>
<text transform="translate(1110 525) scale(2.405 2.987)" y="6">334</text>
<text transform="translate(195 565) scale(2.405 2.987)" y="6">332</text>
<text transform="translate(1238 562) scale(2.405 2.987)" y="6">332</text>
<text transform="translate(100 605) scale(2.405 2.987)" y="6">330</text>
<text transform="translate(1010 598) scale(2.405 2.987)" y="6">330</text>
<text transform="translate(360 638) scale(2.405 2.987)" y="6">328</text>
<text transform="translate(945 705) scale(2.405 2.987)" y="6">326</text>
<text transform="translate(165 718) scale(2.405 2.987)" y="6">324</text>
<text transform="translate(455 772) scale(2.405 2.987)" y="6">322</text>
<text transform="translate(750 800) scale(2.405 2.987)" y="6">320</text>
<text transform="translate(130 842) scale(2.405 2.987)" y="6">318</text>
<text transform="translate(1010 828) scale(2.405 2.987)" y="6">318</text>
<text transform="translate(230 888) scale(2.405 2.987)" y="6">316</text>
<text transform="translate(880 870) scale(2.405 2.987)" y="6">316</text>
<text transform="translate(395 922) scale(2.405 2.987)" y="6">314</text>
<text transform="translate(1010 922) scale(2.405 2.987)" y="6">314</text>
<text transform="translate(685 975) scale(2.405 2.987)" y="6">312</text>
<text transform="translate(912 1047) scale(2.405 2.987)" y="6">310</text>
<text transform="translate(1010 1085) scale(2.405 2.987)" y="6">308</text>
<text transform="translate(522 1208) scale(2.405 2.987)" y="6">304</text>
<text transform="translate(1172 1255) scale(2.405 2.987)" y="6">302</text>
</g>
</g></g>

<!-- ================= U WIND PANEL ================= -->
<g clip-path="url(#cBL)"><g transform="translate(148 637) scale(0.41582 0.33482)">
<rect width="1568" height="1568" fill="#ff3a3a"/>
<polygon fill="#ff5252" points="0,0 1568,0 1568,130 1370,110 1150,100 1050,60 950,90 850,40 600,80 500,130 400,150 200,130 0,140"/>
<polygon fill="#ff6a6a" points="0,0 1568,0 1568,60 1370,50 1100,40 700,10 500,50 300,60 150,40 0,60"/>
<polygon fill="#ff8282" points="0,0 1568,0 1568,12 0,18"/>
<polygon fill="#ff1e1e" points="200,175 250,170 270,200 230,205"/>
<polygon fill="#ff1e1e" points="1490,150 1568,140 1568,240 1510,240 1490,200"/>
<polygon fill="#ff5252" points="0,400 200,420 400,460 600,420 800,400 1000,440 1200,420 1400,420 1568,410 1568,1568 0,1568"/>
<polygon fill="#ff6a6a" points="0,510 200,520 400,545 600,560 800,540 1000,530 1200,520 1400,520 1568,510 1568,1568 0,1568"/>
<polygon fill="#ff8282" points="0,590 200,600 400,640 600,580 800,600 1000,630 1200,600 1400,610 1568,600 1568,1568 0,1568"/>
<polygon fill="#ffa0a0" points="0,700 200,690 420,750 600,700 800,690 1000,720 1200,700 1568,700 1568,1568 0,1568"/>
<polygon fill="#ffbaba" points="0,780 200,770 400,780 600,770 800,780 900,820 1000,780 1200,790 1400,780 1568,780 1568,1568 0,1568"/>
<polygon fill="#ffd2d2" points="0,850 200,840 400,860 600,840 800,820 900,800 1000,830 1100,860 1200,850 1568,840 1568,1568 0,1568"/>
<polygon fill="#ffe6e6" points="0,880 200,870 400,890 600,880 750,850 880,800 950,850 1000,860 1200,880 1400,900 1568,900 1568,1568 0,1568"/>
<polygon fill="#ffffff" points="0,900 200,905 300,960 400,950 600,920 750,870 880,830 960,880 1050,840 1200,860 1400,930 1568,930 1568,1568 0,1568"/>
<polygon fill="#e8f2e6" points="0,1040 200,1040 380,990 500,960 600,1000 700,900 800,880 880,830 950,880 1000,850 1100,850 1200,860 1300,950 1400,1030 1568,1010 1568,1568 0,1568"/>
<polygon fill="#d0e6cc" points="0,1180 100,1140 250,1110 400,1100 500,1080 600,1090 700,1000 800,960 900,900 960,920 1050,950 1150,1050 1250,1080 1400,1100 1568,1090 1568,1568 0,1568"/>
<polygon fill="#b6d9b0" points="0,1290 100,1260 250,1250 400,1200 500,1200 600,1200 700,1160 800,1060 900,1000 1000,1020 1100,1140 1200,1200 1300,1200 1400,1180 1568,1170 1568,1568 0,1568"/>
<polygon fill="#9ccc96" points="100,1400 150,1320 260,1300 350,1350 300,1450 200,1480"/>
<polygon fill="#9ccc96" points="820,1300 900,1100 960,1050 1050,1100 1100,1300 1080,1450 1000,1500 900,1480"/>
<polygon fill="#9ccc96" points="1370,1320 1450,1300 1568,1290 1568,1440 1450,1420"/>
<polygon fill="#d0e6cc" points="0,1450 200,1480 400,1470 600,1520 800,1470 1000,1520 1200,1480 1400,1500 1568,1480 1568,1568 0,1568"/>
<polygon fill="#e8f2e6" points="700,1540 800,1500 900,1520 1000,1568 700,1568"/>
</g></g>

<!-- ================= V WIND PANEL ================= -->
<g clip-path="url(#cBR)"><g transform="translate(880 620) scale(0.42087 0.33333)">
<rect x="0" y="0" width="1700" height="1700" fill="#fff"/>
<polygon fill="#ffe6e6" points="60,40 850,40 820,120 700,150 600,110 460,160 350,130 270,100 200,110 60,100"/>
<polygon fill="#ffd2d2" points="480,40 700,40 650,100 560,100 500,80"/>
<polygon fill="#e8f2e6" points="850,40 1230,40 1210,120 1100,160 1000,170 900,140 860,90"/>
<polygon fill="#d0e6cc" points="870,40 1190,40 1160,100 1050,120 930,100"/>
<polygon fill="#ffe6e6" points="1230,40 1630,40 1630,200 1430,220 1300,180 1250,100"/>
<polygon fill="#ffd2d2" points="1440,40 1630,40 1630,130 1480,120"/>
<polygon fill="#e8f2e6" points="60,100 200,120 270,200 250,280 150,330 60,330"/>
<polygon fill="#d0e6cc" points="60,140 150,170 200,220 130,280 60,300"/>
<polygon fill="#ffe6e6" points="460,170 650,150 850,180 1100,170 1300,200 1630,200 1630,620 1400,600 1300,660 1200,600 1100,620 1000,640 850,600 800,560 700,520 640,450 600,380 500,360 460,300"/>
<polygon fill="#ffe6e6" points="60,380 150,350 250,370 350,390 450,380 460,450 350,470 200,460 60,470"/>
<polygon fill="#ffd2d2" points="100,390 200,380 260,400 200,450 100,450"/>
<polygon fill="#ffd2d2" points="650,220 850,210 1100,240 1300,230 1630,230 1630,520 1300,520 1100,520 850,480 700,430 650,300"/>
<polygon fill="#ffbaba" points="850,250 1000,250 1100,300 1240,250 1430,300 1630,280 1630,470 1430,480 1240,470 1050,470 850,440"/>
<polygon fill="#ffa0a0" points="880,300 1000,290 1240,330 1430,320 1630,330 1630,430 1430,450 1240,450 1100,430 950,400"/>
<polygon fill="#ff8282" points="1240,380 1330,370 1430,390 1500,400 1430,440 1300,440"/>
<polygon fill="#e8f2e6" points="60,570 300,570 420,560 740,560 760,700 720,800 760,900 830,1000 800,1150 740,1250 600,1200 500,1150 430,1100 400,1200 330,1330 250,1330 150,1380 60,1330"/>
<polygon fill="#d0e6cc" points="460,780 530,780 620,850 640,950 560,1000 480,1020 430,980 430,880"/>
<polygon fill="#e8f2e6" points="820,750 880,760 900,1000 870,1150 830,1100"/>
<polygon fill="#ffe6e6" points="880,830 960,850 1010,900 980,1000 920,980"/>
<polygon fill="#ffe6e6" points="1330,680 1630,660 1630,1630 1450,1630 1420,1300 1360,1200 1320,1000 1360,800"/>
<polygon fill="#ffe6e6" points="1130,800 1230,780 1300,900 1330,1050 1280,1200 1200,1100 1150,950"/>
<polygon fill="#ffd2d2" points="1180,880 1230,860 1260,960 1220,1000"/>
<polygon fill="#e8f2e6" points="1080,900 1110,850 1120,1100 1100,1230 1085,1100"/>
<polygon fill="#e8f2e6" points="960,1230 1000,1200 1050,1350 1040,1500 980,1630 900,1630 930,1400"/>
<polygon fill="#d0e6cc" points="990,1260 1020,1300 1030,1450 1000,1450"/>
<polygon fill="#ffe6e6" points="270,1400 400,1350 560,1400 620,1480 600,1630 270,1630"/>
<polygon fill="#ffe6e6" points="1060,1320 1100,1400 1120,1630 1060,1630"/>
<polygon fill="#ffe6e6" points="650,1080 700,1060 760,1200 720,1300 680,1200"/>
</g></g>

<g clip-path="url(#cBL)"><use xlink:href="#barbs" x="148"/></g>
<g clip-path="url(#cBR)"><use xlink:href="#barbs" x="912"/></g>

<g stroke="#000" stroke-width="1.2">
<path d="M229.4 37V562M310.75 37V562M392.1 37V562M473.5 37V562M554.9 37V562M636.25 37V562M717.6 37V562"/>
<path d="M993.4 37V562M1074.75 37V562M1156.1 37V562M1237.5 37V562M1318.9 37V562M1400.25 37V562M1481.6 37V562"/>
<path d="M229.4 637V1162M310.75 637V1162M392.1 637V1162M473.5 637V1162M554.9 637V1162M636.25 637V1162M717.6 637V1162"/>
<path d="M993.4 637V1162M1074.75 637V1162M1156.1 637V1162M1237.5 637V1162M1318.9 637V1162M1400.25 637V1162M1481.6 637V1162"/>
</g>

<g fill="none" stroke="#000" stroke-width="2">
<rect x="148" y="37" width="651" height="525"/>
<rect x="912" y="37" width="651" height="525"/>
<rect x="148" y="637" width="651" height="525"/>
<rect x="912" y="637" width="651" height="525"/>
</g>
<g stroke="#000" stroke-width="1.5">
<path d="M141 37H148M141 95.3H148M141 153.7H148M141 212H148M141 270.3H148M141 328.7H148M141 387H148M141 445.3H148M141 503.7H148M141 562H148"/>
<path d="M905 37H912M905 95.3H912M905 153.7H912M905 212H912M905 270.3H912M905 328.7H912M905 387H912M905 445.3H912M905 503.7H912M905 562H912"/>
<path d="M141 637H148M141 695.3H148M141 753.7H148M141 812H148M141 870.3H148M141 928.7H148M141 987H148M141 1045.3H148M141 1103.7H148M141 1162H148"/>
<path d="M905 637H912M905 695.3H912M905 753.7H912M905 812H912M905 870.3H912M905 928.7H912M905 987H912M905 1045.3H912M905 1103.7H912M905 1162H912"/>
<path d="M148 562V567M229.4 562V567M310.75 562V567M392.1 562V567M473.5 562V567M554.9 562V567M636.25 562V567M717.6 562V567M799 562V567"/>
<path d="M912 562V567M993.4 562V567M1074.75 562V567M1156.1 562V567M1237.5 562V567M1318.9 562V567M1400.25 562V567M1481.6 562V567M1563 562V567"/>
<path d="M148 1162V1167M229.4 1162V1167M310.75 1162V1167M392.1 1162V1167M473.5 1162V1167M554.9 1162V1167M636.25 1162V1167M717.6 1162V1167M799 1162V1167"/>
<path d="M912 1162V1167M993.4 1162V1167M1074.75 1162V1167M1156.1 1162V1167M1237.5 1162V1167M1318.9 1162V1167M1400.25 1162V1167M1481.6 1162V1167M1563 1162V1167"/>
</g>

<g font-size="16" font-weight="bold" text-anchor="end" fill="#000">
<text x="139" y="43">100</text><text x="139" y="101.3">200</text><text x="139" y="159.7">300</text><text x="139" y="218">400</text><text x="139" y="276.3">500</text><text x="139" y="334.7">600</text><text x="139" y="393">700</text><text x="139" y="451.3">800</text><text x="139" y="509.7">900</text><text x="139" y="568">1000</text>
<text x="139" y="643">100</text><text x="139" y="701.3">200</text><text x="139" y="759.7">300</text><text x="139" y="818">400</text><text x="139" y="876.3">500</text><text x="139" y="934.7">600</text><text x="139" y="993">700</text><text x="139" y="1051.3">800</text><text x="139" y="1109.7">900</text><text x="139" y="1168">1000</text>
<text x="904" y="43">%</text><text x="904" y="101.3">%</text><text x="904" y="159.7">%</text><text x="904" y="218">%</text><text x="904" y="276.3">%</text><text x="904" y="334.7">%</text><text x="904" y="393">%</text><text x="904" y="451.3">%</text><text x="904" y="509.7">%</text><text x="904" y="568">%</text>
<text x="904" y="643">%</text><text x="904" y="701.3">%</text><text x="904" y="759.7">%</text><text x="904" y="818">%</text><text x="904" y="876.3">%</text><text x="904" y="934.7">%</text><text x="904" y="993">%</text><text x="904" y="1051.3">%</text><text x="904" y="1109.7">%</text><text x="904" y="1168">%</text>
</g>

<g font-size="15" font-weight="bold" text-anchor="middle" fill="#000">
<text x="148" y="580">00Z</text><text x="229.4" y="580">06Z</text><text x="310.75" y="580">12Z</text><text x="392.1" y="580">18Z</text><text x="473.5" y="580">00Z</text><text x="554.9" y="580">06Z</text><text x="636.25" y="580">12Z</text><text x="717.6" y="580">18Z</text><text x="799" y="580">00Z</text>
<text x="148" y="597">3APR</text><text x="473.5" y="597">4APR</text><text x="799" y="597">5APR</text><text x="148" y="613">2026</text>
<text x="912" y="580">00Z</text><text x="993.4" y="580">06Z</text><text x="1074.75" y="580">12Z</text><text x="1156.1" y="580">18Z</text><text x="1237.5" y="580">00Z</text><text x="1318.9" y="580">06Z</text><text x="1400.25" y="580">12Z</text><text x="1481.6" y="580">18Z</text><text x="1563" y="580">00Z</text>
<text x="912" y="597">3APR</text><text x="1237.5" y="597">4APR</text><text x="1563" y="597">5APR</text><text x="912" y="613">2026</text>
<text x="148" y="1180">00Z</text><text x="229.4" y="1180">06Z</text><text x="310.75" y="1180">12Z</text><text x="392.1" y="1180">18Z</text><text x="473.5" y="1180">00Z</text><text x="554.9" y="1180">06Z</text><text x="636.25" y="1180">12Z</text><text x="717.6" y="1180">18Z</text><text x="799" y="1180">00Z</text>
<text x="148" y="1197">3APR</text><text x="473.5" y="1197">4APR</text><text x="799" y="1197">5APR</text><text x="148" y="1213">2026</text>
<text x="912" y="1180">00Z</text><text x="993.4" y="1180">06Z</text><text x="1074.75" y="1180">12Z</text><text x="1156.1" y="1180">18Z</text><text x="1237.5" y="1180">00Z</text><text x="1318.9" y="1180">06Z</text><text x="1400.25" y="1180">12Z</text><text x="1481.6" y="1180">18Z</text><text x="1563" y="1180">00Z</text>
<text x="912" y="1197">3APR</text><text x="1237.5" y="1197">4APR</text><text x="1563" y="1197">5APR</text><text x="912" y="1213">2026</text>
</g>

<g font-size="25" text-anchor="middle" fill="#000">
<text x="474" y="25" textLength="82" lengthAdjust="spacingAndGlyphs">RH (%)</text>
<text x="1237.5" y="25" textLength="495" lengthAdjust="spacingAndGlyphs">ThetaE (K) and Vertical Velocity (cm/s)</text>
<text x="474.5" y="625" textLength="345" lengthAdjust="spacingAndGlyphs">U wind component (m s-1)</text>
<text x="1237" y="625" textLength="344" lengthAdjust="spacingAndGlyphs">V wind component (m s-1)</text>
</g>
<text transform="translate(33 615) rotate(-90)" font-size="39" text-anchor="middle" fill="#000" textLength="718" lengthAdjust="spacingAndGlyphs">Upper-Air Time Sections Plots</text>

<g>
<rect x="66" y="112" width="15" height="19" fill="#77e27a"/>
<rect x="66" y="130.9" width="15" height="19" fill="#3cb03c"/>
<rect x="66" y="149.8" width="15" height="19" fill="#008000"/>
<rect x="66" y="168.7" width="15" height="19" fill="#002a8a"/>
<rect x="66" y="187.6" width="15" height="19" fill="#0050c0"/>
<rect x="66" y="206.5" width="15" height="19" fill="#0a74e8"/>
<rect x="66" y="225.4" width="15" height="19" fill="#1194f8"/>
<rect x="66" y="244.3" width="15" height="19" fill="#33bbff"/>
<rect x="66" y="263.2" width="15" height="19" fill="#99d4ff"/>
<rect x="66" y="282.1" width="15" height="19" fill="#d5e0fc"/>
<rect x="66" y="301" width="15" height="19" fill="#fde4e4"/>
<rect x="66" y="319.9" width="15" height="19" fill="#f5c6b4"/>
<rect x="66" y="338.8" width="15" height="19" fill="#edae94"/>
<rect x="66" y="357.7" width="15" height="19" fill="#e88c78"/>
<rect x="66" y="376.6" width="15" height="19" fill="#e17662"/>
<rect x="66" y="395.5" width="15" height="19" fill="#ff5a1a"/>
<rect x="66" y="414.4" width="15" height="19" fill="#ffa01e"/>
<rect x="66" y="433.3" width="15" height="19" fill="#ffd428"/>
<rect x="66" y="452.2" width="15" height="19" fill="#f1f06a"/>
<rect x="66" y="471.1" width="15" height="19" fill="#ffff5a"/>
<rect x="66" y="490" width="15" height="19" fill="#ffff9e"/>
<rect x="66" y="508.9" width="15" height="19" fill="#f4f4f4"/>
</g>
<g font-size="15" font-weight="bold" fill="#000">
<text x="86" y="136.4">100</text><text x="86" y="155.3">95</text><text x="86" y="174.2">90</text><text x="86" y="193.1">85</text><text x="86" y="212">80</text><text x="86" y="230.9">75</text><text x="86" y="249.8">70</text><text x="86" y="268.7">65</text><text x="86" y="287.6">60</text><text x="86" y="306.5">55</text><text x="86" y="325.4">50</text><text x="86" y="344.3">45</text><text x="86" y="363.2">40</text><text x="86" y="382.1">35</text><text x="86" y="401">30</text><text x="86" y="419.9">25</text><text x="86" y="438.8">20</text><text x="86" y="457.7">15</text><text x="86" y="476.6">10</text><text x="86" y="495.5">5</text><text x="86" y="514.4">0</text>
</g>

<g>
<rect x="830" y="111.7" width="15" height="23.1" fill="#a01e1e"/>
<rect x="830" y="134.66" width="15" height="23.1" fill="#b22222"/>
<rect x="830" y="157.62" width="15" height="23.1" fill="#c83c3c"/>
<rect x="830" y="180.58" width="15" height="23.1" fill="#ff9900"/>
<rect x="830" y="203.54" width="15" height="23.1" fill="#ffbe3c"/>
<rect x="830" y="226.5" width="15" height="23.1" fill="#ffe070"/>
<rect x="830" y="249.46" width="15" height="23.1" fill="#fff5aa"/>
<rect x="830" y="272.42" width="15" height="23.1" fill="#7de87d"/>
<rect x="830" y="295.38" width="15" height="23.1" fill="#3cd23c"/>
<rect x="830" y="318.34" width="15" height="23.1" fill="#14a014"/>
<rect x="830" y="341.3" width="15" height="23.1" fill="#1e6ed2"/>
<rect x="830" y="364.26" width="15" height="23.1" fill="#1e3cff"/>
<rect x="830" y="387.22" width="15" height="23.1" fill="#2800a0"/>
<rect x="830" y="410.18" width="15" height="23.1" fill="#3020a0"/>
<rect x="830" y="433.14" width="15" height="23.1" fill="#4a3cc8"/>
<rect x="830" y="456.1" width="15" height="23.1" fill="#6e5ad8"/>
<rect x="830" y="479.06" width="15" height="23.1" fill="#8070e8"/>
<rect x="830" y="502.02" width="15" height="23" fill="#f4f4f4"/>
</g>
<g font-size="15" font-weight="bold" fill="#000">
<text x="850" y="140.2">100</text><text x="850" y="163.1">70</text><text x="850" y="186.1">55</text><text x="850" y="209">40</text><text x="850" y="232">30</text><text x="850" y="255">22</text><text x="850" y="277.9">15</text><text x="850" y="300.9">9</text><text x="850" y="323.8">6</text><text x="850" y="346.8">2</text><text x="850" y="369.8">0</text><text x="850" y="392.7">−2</text><text x="850" y="415.7">−5</text><text x="850" y="438.6">−10</text><text x="850" y="461.6">−18</text><text x="850" y="484.6">−30</text><text x="850" y="507.5">−45</text>
</g>

<g>
<rect x="66" y="712.7" width="15" height="21.8" fill="#ff0000"/>
<rect x="66" y="734.3" width="15" height="21.8" fill="#ff1e1e"/>
<rect x="66" y="755.9" width="15" height="21.8" fill="#ff3a3a"/>
<rect x="66" y="777.5" width="15" height="21.8" fill="#ff5252"/>
<rect x="66" y="799.1" width="15" height="21.8" fill="#ff6a6a"/>
<rect x="66" y="820.7" width="15" height="21.8" fill="#ff8282"/>
<rect x="66" y="842.3" width="15" height="21.8" fill="#ffa0a0"/>
<rect x="66" y="863.9" width="15" height="21.8" fill="#ffbaba"/>
<rect x="66" y="885.5" width="15" height="21.8" fill="#ffd2d2"/>
<rect x="66" y="907.1" width="15" height="21.8" fill="#ffffff"/>
<rect x="66" y="928.7" width="15" height="21.8" fill="#e8f2e6"/>
<rect x="66" y="950.3" width="15" height="21.8" fill="#d0e6cc"/>
<rect x="66" y="971.9" width="15" height="21.8" fill="#b6d9b0"/>
<rect x="66" y="993.5" width="15" height="21.8" fill="#9ccc96"/>
<rect x="66" y="1015.1" width="15" height="21.8" fill="#80bc7c"/>
<rect x="66" y="1036.7" width="15" height="21.8" fill="#66ae60"/>
<rect x="66" y="1058.3" width="15" height="21.8" fill="#4ca046"/>
<rect x="66" y="1079.9" width="15" height="21.8" fill="#32962e"/>
<rect x="66" y="1101.5" width="15" height="21.8" fill="#1e8c14"/>
<g font-size="15" font-weight="bold" fill="#000">
<text x="86" y="739.5">40</text><text x="86" y="761.1">30</text><text x="86" y="782.7">22</text><text x="86" y="804.3">16</text><text x="86" y="825.9">12</text><text x="86" y="847.5">9</text><text x="86" y="869.1">6</text><text x="86" y="890.7">3</text><text x="86" y="912.3">1</text><text x="86" y="933.9">−1</text><text x="86" y="955.5">−3</text><text x="86" y="977.1">−6</text><text x="86" y="998.7">−9</text><text x="86" y="1020.3">−12</text><text x="86" y="1041.9">−16</text><text x="86" y="1063.5">−22</text><text x="86" y="1085.1">−30</text><text x="86" y="1106.7">−40</text>
</g>
</g>
<g>
<rect x="830" y="712.7" width="15" height="21.8" fill="#ff0000"/>
<rect x="830" y="734.3" width="15" height="21.8" fill="#ff1e1e"/>
<rect x="830" y="755.9" width="15" height="21.8" fill="#ff3a3a"/>
<rect x="830" y="777.5" width="15" height="21.8" fill="#ff5252"/>
<rect x="830" y="799.1" width="15" height="21.8" fill="#ff6a6a"/>
<rect x="830" y="820.7" width="15" height="21.8" fill="#ff8282"/>
<rect x="830" y="842.3" width="15" height="21.8" fill="#ffa0a0"/>
<rect x="830" y="863.9" width="15" height="21.8" fill="#ffbaba"/>
<rect x="830" y="885.5" width="15" height="21.8" fill="#ffd2d2"/>
<rect x="830" y="907.1" width="15" height="21.8" fill="#ffffff"/>
<rect x="830" y="928.7" width="15" height="21.8" fill="#e8f2e6"/>
<rect x="830" y="950.3" width="15" height="21.8" fill="#d0e6cc"/>
<rect x="830" y="971.9" width="15" height="21.8" fill="#b6d9b0"/>
<rect x="830" y="993.5" width="15" height="21.8" fill="#9ccc96"/>
<rect x="830" y="1015.1" width="15" height="21.8" fill="#80bc7c"/>
<rect x="830" y="1036.7" width="15" height="21.8" fill="#66ae60"/>
<rect x="830" y="1058.3" width="15" height="21.8" fill="#4ca046"/>
<rect x="830" y="1079.9" width="15" height="21.8" fill="#32962e"/>
<rect x="830" y="1101.5" width="15" height="21.8" fill="#1e8c14"/>
<g font-size="15" font-weight="bold" fill="#000">
<text x="850" y="739.5">40</text><text x="850" y="761.1">30</text><text x="850" y="782.7">22</text><text x="850" y="804.3">16</text><text x="850" y="825.9">12</text><text x="850" y="847.5">9</text><text x="850" y="869.1">6</text><text x="850" y="890.7">3</text><text x="850" y="912.3">1</text><text x="850" y="933.9">−1</text><text x="850" y="955.5">−3</text><text x="850" y="977.1">−6</text><text x="850" y="998.7">−9</text><text x="850" y="1020.3">−12</text><text x="850" y="1041.9">−16</text><text x="850" y="1063.5">−22</text><text x="850" y="1085.1">−30</text><text x="850" y="1106.7">−40</text>
</g>
</g>
</svg>
</body></html>
